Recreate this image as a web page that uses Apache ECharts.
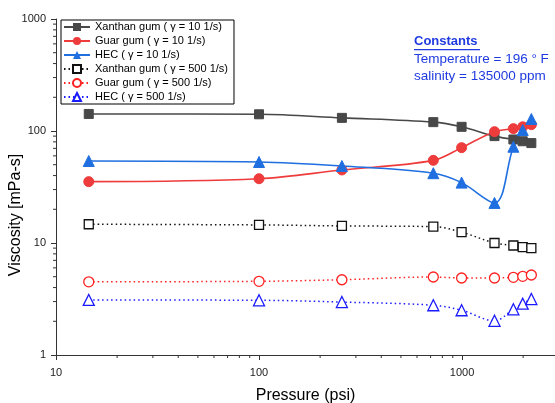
<!DOCTYPE html>
<html>
<head>
<meta charset="utf-8">
<script src="https://cdn.jsdelivr.net/npm/echarts@6/dist/echarts.min.js"></script>
<style>html,body{margin:0;padding:0;background:#fff;}#c{width:555px;height:403px;}</style>
</head>
<body>
<div id="c"></div>
<script>
const pressure = [14.5, 100, 256, 722, 995, 1445, 1790, 1990, 2195];
const xanthan10 = [142, 141, 131, 120, 109, 90, 84, 81, 78];
const guar10 = [35.3, 37.5, 44.9, 54.7, 71, 98.6, 105, 109, 114];
const hec10 = [54, 52.9, 48.7, 42, 34.6, 22.8, 72.4, 102, 128];
const xanthan500 = [14.7, 14.5, 14.2, 14.0, 12.5, 10.0, 9.5, 9.2, 9.0];
const guar500 = [4.5, 4.55, 4.7, 4.97, 4.87, 4.87, 4.94, 5.04, 5.18];
const hec500 = [3.1, 3.08, 2.97, 2.78, 2.51, 2.02, 2.56, 2.87, 3.16];
const xMinorTicks = [20,30,40,50,60,70,80,90,200,300,400,500,600,700,800,900,2000];
const yMinorTicks = [2,3,4,5,6,7,8,9,20,30,40,50,60,70,80,90,200,300,400,500,600,700,800,900];
const seriesNames = ['Xanthan gum ( \u03b3 = 10 1/s)','Guar gum ( \u03b3 = 10 1/s)','HEC ( \u03b3 = 10 1/s)','Xanthan gum ( \u03b3 = 500 1/s)','Guar gum ( \u03b3 = 500 1/s)','HEC ( \u03b3 = 500 1/s)'];

const FONT = 'Liberation Sans, Arial, sans-serif';
function pts(arr){ return pressure.map((p,i)=>[p, arr[i]]); }
function powLabel(v){ const l=Math.log10(v); return Math.abs(l-Math.round(l))<1e-6 ? String(Math.round(v)) : ''; }

const chart = echarts.init(document.getElementById('c'), null, {renderer:'canvas'});

function solid(name, data, color, symbol, size){
  return {name, type:'line', data:pts(data), smooth:0.35, symbol, symbolSize:size,
    lineStyle:{color, width:1.6}, itemStyle:{color, borderColor:color}, z:3};
}
function dotted(name, data, color, symbol, size){
  return {name, type:'line', data:pts(data), smooth:0.35, symbol, symbolSize:size,
    lineStyle:{color, width:1.5, type:[1.5,3]}, itemStyle:{color:'#fff', borderColor:color, borderWidth:1.3}, z:3};
}

const option = {
  animation:false,
  backgroundColor:'#fff',
  textStyle:{fontFamily:FONT},
  grid:{left:56, top:19, right:0, bottom:48, containLabel:false, outerBoundsMode:'none'},
  xAxis:{type:'log', logBase:10, min:10, max:2870,
    name:'Pressure (psi)', nameLocation:'middle', nameGap:33,
    nameTextStyle:{fontSize:16, color:'#000', fontFamily:FONT},
    axisLine:{lineStyle:{color:'#333', width:1}},
    axisTick:{show:true, length:5, lineStyle:{color:'#333'}},
    axisLabel:{fontSize:11, color:'#222', margin:12, showMaxLabel:false, formatter:powLabel},
    splitLine:{show:false}},
  yAxis:{type:'log', logBase:10, min:1, max:1000,
    axisLine:{show:true, lineStyle:{color:'#333', width:1}},
    axisTick:{show:true, length:5, lineStyle:{color:'#333'}},
    axisLabel:{fontSize:11, color:'#222', margin:10, formatter:powLabel},
    splitLine:{show:false}},
  legend:{orient:'vertical', left:61, top:20, data:seriesNames,
    itemWidth:26, itemHeight:10, itemGap:2, padding:[1,6,1,2],
    borderColor:'#000', borderWidth:1, backgroundColor:'#fff',
    textStyle:{fontSize:11, color:'#000', fontFamily:FONT, lineHeight:12}},
  graphic:[
    {type:'text', x:16, y:215, rotation:Math.PI/2, style:{text:'Viscosity [mPa-s]', fill:'#000', font:'16px '+FONT, align:'center', verticalAlign:'middle'}},
    {type:'text', left:414, top:35, style:{text:'Constants', fill:'#1f3be0', font:'bold 13px '+FONT}},
    {type:'rect', left:414, top:49, shape:{width:66, height:1.2}, style:{fill:'#1f3be0'}},
    {type:'text', left:414, top:52, style:{text:'Temperature = 196 \u00b0 F', fill:'#1f3be0', font:'13.5px '+FONT}},
    {type:'text', left:414, top:69, style:{text:'salinity = 135000 ppm', fill:'#1f3be0', font:'13.5px '+FONT}}
  ],
  series:[
    solid(seriesNames[0], xanthan10, '#484848', 'rect', 9),
    solid(seriesNames[1], guar10, '#ee3b3b', 'circle', 10),
    solid(seriesNames[2], hec10, '#1f6fe0', 'triangle', 11),
    dotted(seriesNames[3], xanthan500, '#111', 'rect', 9),
    dotted(seriesNames[4], guar500, '#ff2020', 'circle', 10),
    dotted(seriesNames[5], hec500, '#1a1aff', 'triangle', 11),
    {type:'custom', silent:true, clip:false, z:1, data:xMinorTicks.map(v=>[v,1]),
      renderItem:function(params, api){ const p = api.coord([api.value(0), 1]);
        return {type:'line', shape:{x1:p[0], y1:p[1], x2:p[0], y2:p[1]+3}, style:{stroke:'#333', lineWidth:1}}; }},
    {type:'custom', silent:true, clip:false, z:1, data:yMinorTicks.map(v=>[10,v]),
      renderItem:function(params, api){ const p = api.coord([10, api.value(1)]);
        return {type:'line', shape:{x1:p[0]-3, y1:p[1], x2:p[0], y2:p[1]}, style:{stroke:'#333', lineWidth:1}}; }}
  ]
};
chart.setOption(option);
</script>
</body>
</html>
